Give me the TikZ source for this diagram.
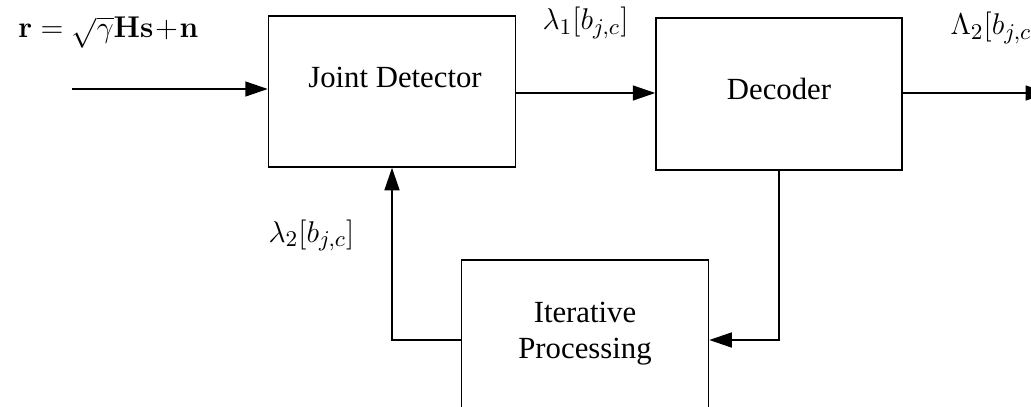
\documentclass[tikz,border=0pt]{standalone}
\usepackage[no-math]{fontspec}
\setmainfont{Liberation Serif}
\usetikzlibrary{arrows.meta}
\begin{document}
\begin{tikzpicture}[x=0.4pt,y=-0.4pt,
  every node/.style={font=\fontsize{12.3}{14}\selectfont},
  blk/.style={draw, line width=0.6pt, inner sep=0pt},
  lbl/.style={inner sep=0pt, anchor=base},
  sig/.style={inner sep=0pt, anchor=base west, font=\fontsize{13}{15}\selectfont},
  arr/.style={line width=0.6pt, -{Triangle[length=9pt,width=6pt]}},
  ln/.style={line width=0.6pt}]
\useasboundingbox (0,0) rectangle (1031,406);
\clip (0,0) rectangle (1031,406);
% blocks
\node[blk, minimum width=98.8pt, minimum height=60.4pt] (jd) at (392,91.5) {};
\node[blk, minimum width=98.4pt, minimum height=60.8pt] (dec) at (779,94) {};
\node[blk, minimum width=98.8pt, minimum height=64pt] (it) at (585,340) {};
% block texts
\node[lbl] (jdt) at (395,88) {Joint Detector};
\node[lbl] (dect) at (779,100) {Decoder};
\node[lbl] (it1) at (585,322) {Iterative};
\node[lbl] (it2) at (585,358) {Processing};
% signal labels
\node[sig] (rl) at (18,38) {$\mathbf{r}=\sqrt{\gamma}\mathbf{H}\mathbf{s}\!+\!\mathbf{n}$};
\node[sig] (l1) at (542,30) {$\lambda_1[b_{j,c}]$};
\node[sig] (L2) at (950,35) {$\Lambda_2[b_{j,c}]$};
\node[sig] (l2) at (268,242) {$\lambda_2[b_{j,c}]$};
% connectors
\coordinate (in) at (72,89);
\coordinate (out) at (1048,93);
\coordinate (mid) at (514,93);
\draw[arr] (in) -- (in -| jd.west);
\draw[arr] (mid -| jd.east) -- (mid -| dec.west);
\draw[arr] (dec.east |- out) -- (out);
\draw[arr] (dec.south) |- (it.east);
\draw[arr] (it.west) -| (jd.south);
\end{tikzpicture}
\end{document}
